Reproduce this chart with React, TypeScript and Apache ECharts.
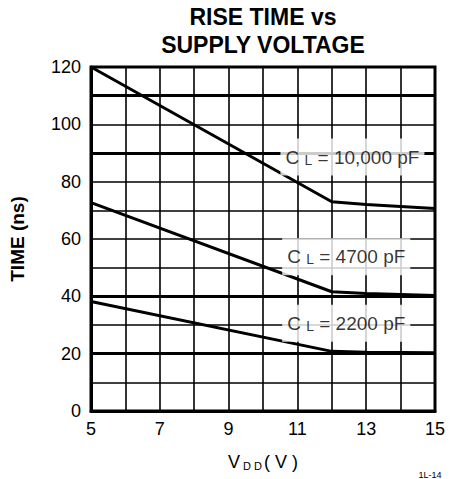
import React, { useEffect, useRef } from "react";
import * as echarts from "echarts";

const FONT = "'Liberation Sans', Arial, Helvetica, sans-serif";

const xMin = 5;
const xMax = 15;
const yMin = 0;
const yMax = 120;

const cl10000: [number, number][] = [[5, 120], [12, 73], [13, 72], [15, 70.6]];
const cl4700: [number, number][] = [[5, 72.7], [12, 41.6], [13, 41], [15, 40.3]];
const cl2200: [number, number][] = [[5, 38.2], [12, 20.8], [13, 20.5], [15, 20.3]];

const curveLabels = ["10,000 pF", "4700 pF", "2200 pF"];
const labelPos: [number, number][] = [[12.6, 88.6], [12.42, 53.8], [12.42, 30.6]];

const emphasizedY = [20, 40, 90, 110];

export default function App() {
  const ref = useRef<HTMLDivElement>(null);
  useEffect(() => {
    if (!ref.current) return;
    const chart = echarts.init(ref.current, null, { renderer: "svg" });
    const lineSeries = (name: string, data: [number, number][]) => ({
      name,
      type: "line",
      data,
      symbol: "none",
      lineStyle: { color: "#000", width: 3 },
      z: 5,
    });
    chart.setOption({
      animation: false,
      backgroundColor: "#fff",
      textStyle: { fontFamily: FONT },
      grid: {
        left: 91,
        right: 34,
        top: 67,
        bottom: 68,
        containLabel: false,
        outerBoundsMode: "none",
        show: true,
        borderColor: "#000",
        borderWidth: 3,
        backgroundColor: "transparent",
      },
      xAxis: {
        type: "value",
        min: xMin,
        max: xMax,
        interval: 1,
        axisLine: { show: true, lineStyle: { color: "#000", width: 3 } },
        axisTick: { show: false },
        splitLine: { show: true, lineStyle: { color: "#000", width: 1.6 } },
        axisLabel: {
          color: "#000",
          fontSize: 18,
          fontFamily: FONT,
          margin: 9,
          formatter: (v: number) => (v % 2 === 1 ? String(v) : ""),
        },
        name: "{v|V}{s| D D}{v|( V )}",
        nameLocation: "middle",
        nameGap: 42,
        nameTextStyle: {
          rich: {
            v: { fontSize: 18, fontFamily: FONT, color: "#000", verticalAlign: "bottom" },
            s: { fontSize: 11, fontFamily: FONT, color: "#000", verticalAlign: "bottom", padding: [0, 2, 0, 0] },
          },
        },
      },
      yAxis: {
        type: "value",
        min: yMin,
        max: yMax,
        interval: 10,
        axisLine: { show: true, lineStyle: { color: "#000", width: 3 } },
        axisTick: { show: false },
        splitLine: { show: true, lineStyle: { color: "#000", width: 1.6 } },
        axisLabel: {
          color: "#000",
          fontSize: 18,
          fontFamily: FONT,
          margin: 10,
          formatter: (v: number) => (v % 20 === 0 ? String(v) : ""),
        },
        name: "TIME (ns)",
        nameLocation: "middle",
        nameGap: 64,
        nameTextStyle: { color: "#000", fontSize: 19, fontWeight: "bold", fontFamily: FONT },
      },
      series: [
        {
          type: "line",
          data: [],
          symbol: "none",
          z: 1,
          zlevel: 0,
          markLine: {
            silent: true,
            symbol: "none",
            z: 1,
            label: { show: false },
            lineStyle: { color: "#000", width: 3, type: "solid" },
            data: emphasizedY.map((y) => ({ yAxis: y })),
          },
        },
        lineSeries("10000", cl10000),
        lineSeries("4700", cl4700),
        lineSeries("2200", cl2200),
        {
          type: "scatter",
          symbolSize: 0,
          z: 20,
          data: labelPos.map((p, i) => ({ value: p, name: curveLabels[i] })),
          label: {
            show: true,
            position: "inside",
            formatter: (p: any) => `{c|C }{l|L}{c| = ${p.name}}`,
            backgroundColor: "#fff",
            padding: [9, 5, 9, 5],
            rich: {
              c: { fontSize: 19, fontFamily: FONT, color: "#000", verticalAlign: "bottom" },
              l: { fontSize: 14, fontFamily: FONT, color: "#000", verticalAlign: "bottom" },
            },
          },
        },
      ],
      graphic: [
        {
          type: "text",
          style: {
            x: 263,
            y: 3,
            text: "RISE TIME vs\nSUPPLY VOLTAGE",
            textAlign: "center",
            font: `bold 23px ${FONT}`,
            lineHeight: 28,
            fill: "#000",
          },
        },
        {
          type: "text",
          style: {
            x: 430,
            y: 470,
            text: "1L-14",
            textAlign: "center",
            font: `9px ${FONT}`,
            fill: "#000",
          },
        },
      ],
    });
    return () => chart.dispose();
  }, []);
  return <div ref={ref} style={{ width: 469, height: 479, position: "absolute", left: 0, top: 0 }} />;
}
